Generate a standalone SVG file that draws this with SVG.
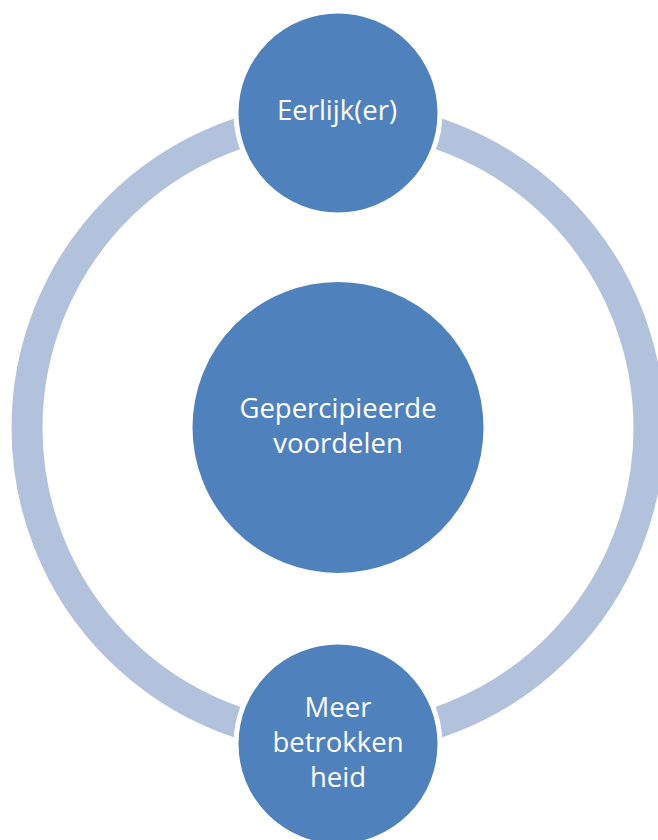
<svg xmlns="http://www.w3.org/2000/svg" width="658" height="840" viewBox="0 0 658 840">
<style>
.node{fill:#4F81BD;stroke:#FFFFFF;stroke-width:5}
.lbl{fill:#FFFFFF;font-family:"Open Sans","Liberation Sans",sans-serif;font-size:27.5px;text-anchor:middle}
</style>
<rect width="658" height="840" fill="#FFFFFF"/>
<g id="connectors">
<circle cx="338" cy="428" r="311" fill="none" stroke="#B2C1DC" stroke-width="31"/>
</g>
<g id="node-center">
<circle class="node" cx="338" cy="427.5" r="148"/>
<text class="lbl" x="338" y="418">Gepercipieerde</text>
<text class="lbl" x="338" y="453">voordelen</text>
</g>
<g id="node-top">
<circle class="node" cx="338" cy="113" r="102"/>
<text class="lbl" x="337" y="120">Eerlijk(er)</text>
</g>
<g id="node-bottom">
<circle class="node" cx="338" cy="744" r="102"/>
<text class="lbl" x="338" y="717">Meer</text>
<text class="lbl" x="338" y="752">betrokken</text>
<text class="lbl" x="338" y="787">heid</text>
</g>
</svg>
